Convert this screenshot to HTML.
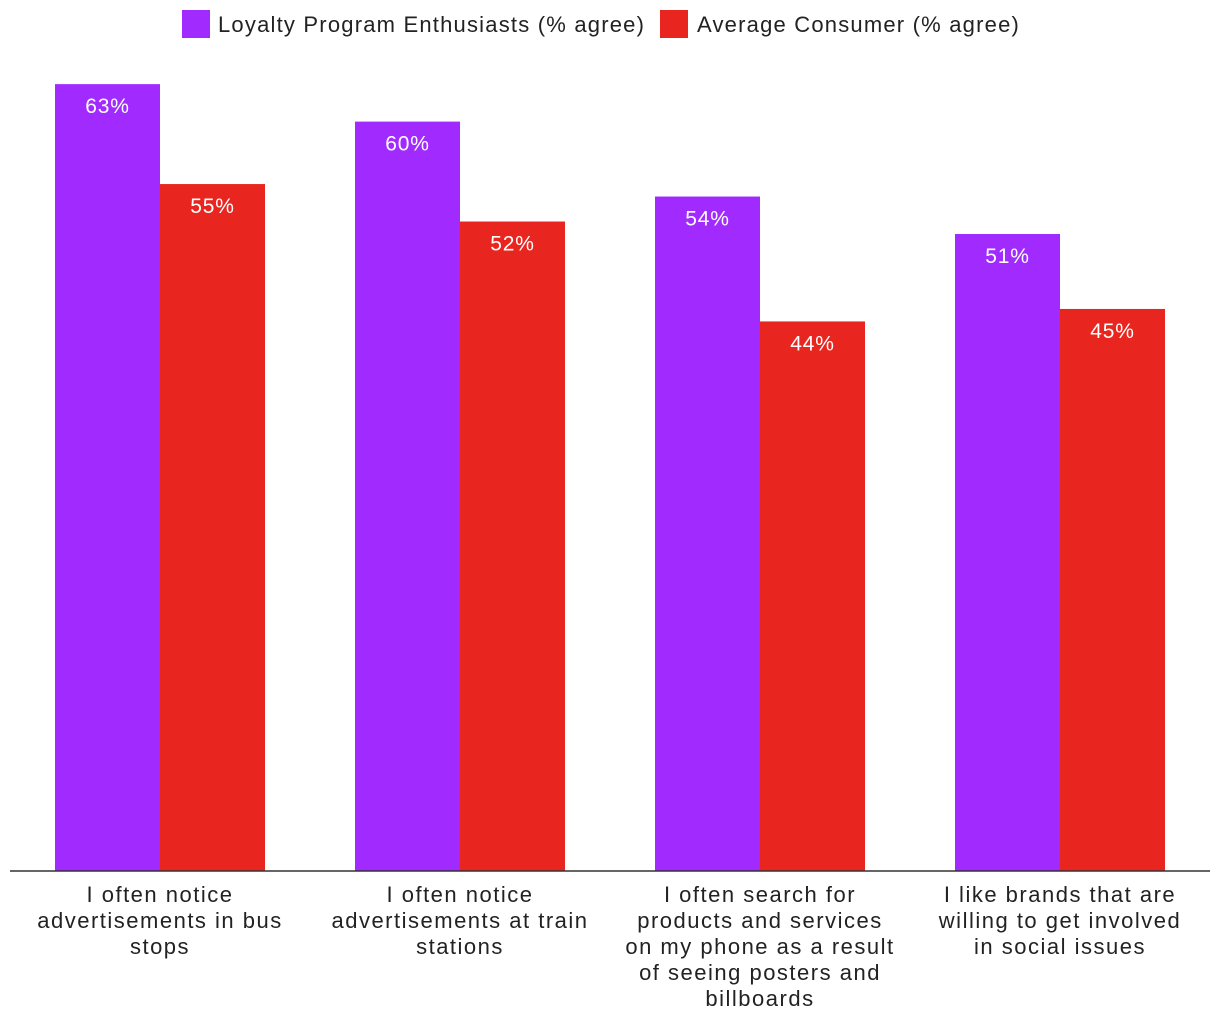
<!DOCTYPE html>
<html><head><meta charset="utf-8"><style>
body{margin:0;background:#fff;}
svg{display:block;font-family:"Liberation Sans",sans-serif;}
</style></head><body>
<svg id="chart" width="1220" height="1020">
<g>
<rect x="182" y="10" width="28" height="28" fill="#a12bff"/>
<text x="218" y="32" font-size="22" letter-spacing="1.2" fill="#222">Loyalty Program Enthusiasts (% agree)</text>
<rect x="660" y="10" width="28" height="28" fill="#e8261f"/>
<text x="697" y="32" font-size="22" letter-spacing="1.2" fill="#222">Average Consumer (% agree)</text>
</g>
<g id="bars"></g>
<line x1="10" y1="871" x2="1210" y2="871" stroke="#333" stroke-width="1.5"/>
<g id="cats"></g>
</svg>
<script>
const categories=[
["I often notice","advertisements in bus","stops"],
["I often notice","advertisements at train","stations"],
["I often search for","products and services","on my phone as a result","of seeing posters and","billboards"],
["I like brands that are","willing to get involved","in social issues"]];
const enthusiasts=[63,60,54,51];
const average=[55,52,44,45];
const NS="http://www.w3.org/2000/svg";
const base=871, perUnit=12.49, groupW=300, x0=10, barW=105;
function y(v){return base-v*perUnit;}
function gx(i){return x0+groupW*i+groupW/2;}
const bars=document.getElementById('bars'), cats=document.getElementById('cats');
function mk(tag,attrs,parent){const e=document.createElementNS(NS,tag);for(const k in attrs)e.setAttribute(k,attrs[k]);parent.appendChild(e);return e;}
[[enthusiasts,'#a12bff',-1,'enthusiasts'],[average,'#e8261f',0,'average']].forEach(([vals,col,off,nm])=>{
vals.forEach((v,i)=>{
const x=gx(i)+off*barW;
const r=mk('rect',{x:x,y:y(v),width:barW,height:base-y(v),fill:col},bars);


const t=mk('text',{x:x+barW/2,y:y(v)+29,'font-size':21,'letter-spacing':0.8,fill:'#fff','text-anchor':'middle'},bars);
t.textContent=v+'%';


});});
categories.forEach((lines,i)=>{
lines.forEach((l,j)=>{
const t=mk('text',{x:gx(i),y:902+26*j,'font-size':22,'letter-spacing':1.5,fill:'#222','text-anchor':'middle'},cats);
t.textContent=l;


});});
</script>
</body></html>
